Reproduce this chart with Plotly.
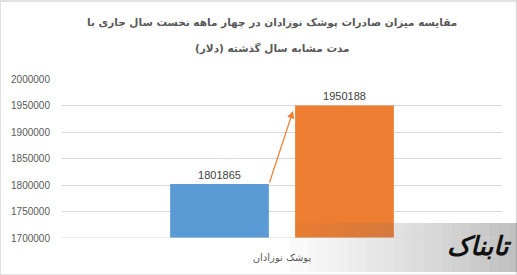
import plotly.graph_objects as go

categories = ["پوشک نوزادان"]
series_names = ["سال گذشته", "سال جاری"]
prev_values = [1801865]
curr_values = [1950188]
colors = ["#5b9bd5", "#ed7d31"]
title_lines = ["مقایسه میزان صادرات پوشک نوزادان در چهار ماهه نخست سال جاری با",
               "مدت مشابه سال گذشته (دلار)"]

W, H = 517, 275
L, R, T, B = 62, 15, 79, 37
pw, ph = W - L - R, H - T - B

fig = go.Figure()
for name, vals, col in zip(series_names, [prev_values, curr_values], colors):
    fig.add_trace(go.Bar(
        x=[0], y=vals, name=name, marker=dict(color=col, line=dict(width=0)),
        text=[str(v) for v in vals], textposition="outside",
        textfont=dict(family="Liberation Sans, Arial", size=11, color="#404040"),
        cliponaxis=False,
    ))

# arrow from top-right of first bar to near top-left of second bar
fig.add_annotation(
    x=0.025, y=curr_values[0] - 10500, ax=-0.0295, ay=prev_values[0],
    xref="x", yref="y", axref="x", ayref="y",
    showarrow=True, arrowhead=2, arrowsize=1.2, arrowwidth=1.2,
    arrowcolor="#ed7d31", text="",
)

# title lines
for line, yc in zip(title_lines, [22, 48]):
    fig.add_annotation(xref="paper", yref="paper", x=(272 - L) / pw, y=(H - yc - B) / ph,
                       xanchor="center", yanchor="middle", showarrow=False,
                       text=f"<b>{line}</b>",
                       font=dict(family="DejaVu Sans", size=10.5, color="#595959"))

shapes = [dict(type="rect", xref="paper", yref="paper",
               x0=-L / pw, x1=1 + R / pw - 0.5 / pw, y0=-B / ph, y1=1 + T / ph - 1 / ph,
               line=dict(color="#d9d9d9", width=1.5), fillcolor="rgba(0,0,0,0)", layer="above")]
# watermark gradient strips
n = 24
x_start, x_end = 290, 517
for i in range(n):
    xa = x_start + (x_end - x_start) * i / n
    xb = x_start + (x_end - x_start) * (i + 1) / n
    op = 0.03 + 0.4 * (i / (n - 1)) ** 1.1
    shapes.append(dict(type="rect", xref="paper", yref="paper",
                       x0=(xa - L) / pw, x1=(xb - L) / pw,
                       y0=-(B - 3) / ph, y1=(H - 223 - B) / ph,
                       line=dict(width=0), fillcolor=f"rgba(110,110,110,{op:.3f})", layer="above"))

fig.add_annotation(xref="paper", yref="paper", x=(514 - L) / pw, y=(H - 246 - B) / ph,
                   xanchor="right", yanchor="middle", showarrow=False,
                   text="<b><i>تابناک</i></b>",
                   font=dict(family="DejaVu Sans", size=26, color="#111111"))

fig.update_layout(
    width=W, height=H, margin=dict(l=L, r=R, t=T, b=B),
    paper_bgcolor="white", plot_bgcolor="white",
    barmode="group", bargap=0.432, bargroupgap=0.21,
    showlegend=False,
    shapes=shapes,
    xaxis=dict(range=[-0.5, 0.5], tickmode="array", tickvals=[0], ticktext=categories,
               showgrid=False, zeroline=False, showline=False, ticks="", ticklabelstandoff=12,
               tickfont=dict(family="DejaVu Sans", size=10, color="#595959")),
    yaxis=dict(range=[1700000, 2000000], dtick=50000, tickformat="d",
               showgrid=True, gridcolor="#d9d9d9", gridwidth=1, zeroline=False,
               showline=False, ticks="", ticklabelstandoff=11,
               tickfont=dict(family="Liberation Sans, Arial", size=10, color="#595959")),
)
fig.add_hline(y=1700000, line=dict(color="#d9d9d9", width=1))

fig.write_html("out.html")
